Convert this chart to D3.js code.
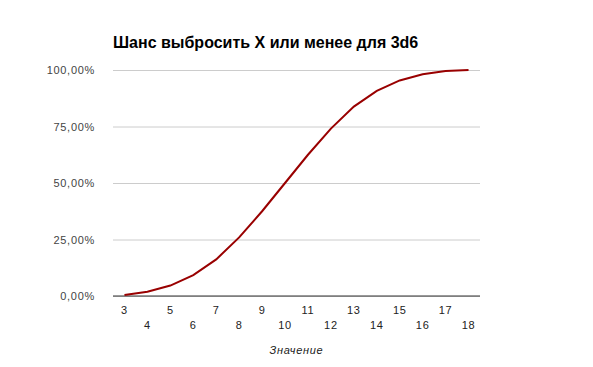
<!DOCTYPE html>
<html>
<head>
<meta charset="utf-8">
<script src="https://cdn.jsdelivr.net/npm/d3@7"></script>
<style>
  body { margin: 0; background: #fff; }
  svg text { font-family: Arial, "Liberation Sans", sans-serif; }
</style>
</head>
<body>
<div id="chart"></div>
<script>
// values: chance to roll X or less with 3d6
const rolls = [3, 4, 5, 6, 7, 8, 9, 10, 11, 12, 13, 14, 15, 16, 17, 18];
const chance = [0.0046, 0.0185, 0.0463, 0.0926, 0.162, 0.2593, 0.375, 0.5, 0.625, 0.7407, 0.838, 0.9074, 0.9537, 0.9815, 0.9954, 1.0];
const yTicks = [0, 0.25, 0.5, 0.75, 1];
const title = 'Шанс выбросить X или менее для 3d6';
const xTitle = 'Значение';

const config = {
  width: 593,
  height: 367,
  margin: {top: 70, right: 113, bottom: 71, left: 113}
};

const w = config.width - config.margin.left - config.margin.right;
const h = config.height - config.margin.top - config.margin.bottom;

const svg = d3.select('#chart').append('svg')
  .attr('width', config.width)
  .attr('height', config.height);

svg.append('text')
  .attr('x', config.margin.left)
  .attr('y', 48)
  .attr('font-size', 16)
  .attr('font-weight', 'bold')
  .attr('fill', '#000')
  .text(title);

const chart = svg.append('g')
  .attr('transform', `translate(${config.margin.left},${config.margin.top})`);

const xScale = d3.scalePoint()
  .domain(rolls)
  .range([0, w])
  .padding(0.5);

const yScale = d3.scaleLinear()
  .domain([0, 1])
  .range([h, 0]);

const fmt = d => d3.format('.2f')(d * 100).replace('.', ',') + '%';

// gridlines + y labels
const yAxis = d3.axisLeft(yScale)
  .tickValues(yTicks)
  .tickSize(-w)
  .tickPadding(18)
  .tickFormat(fmt);

chart.append('g')
  .attr('class', 'y-axis')
  .call(yAxis)
  .call(g => g.select('.domain').remove())
  .call(g => g.selectAll('line').attr('stroke', '#ccc'))
  .call(g => g.selectAll('text')
    .attr('font-size', 11)
    .attr('letter-spacing', 0.7)
    .attr('fill', '#444'));

// baseline
chart.append('line')
  .attr('x1', 0).attr('x2', w)
  .attr('y1', h).attr('y2', h)
  .attr('stroke', '#333')
  .attr('stroke-width', 1);

// x labels, staggered in two rows
chart.append('g')
  .selectAll('text')
  .data(rolls)
  .join('text')
  .attr('x', d => xScale(d))
  .attr('y', (d, i) => h + (i % 2 === 0 ? 18 : 33))
  .attr('text-anchor', 'middle')
  .attr('font-size', 11)
  .attr('letter-spacing', 0.7)
  .attr('fill', '#222')
  .text(d => d);

chart.append('text')
  .attr('x', w / 2)
  .attr('y', h + 58)
  .attr('text-anchor', 'middle')
  .attr('font-size', 11)
  .attr('letter-spacing', 0.7)
  .attr('font-style', 'italic')
  .attr('fill', '#222')
  .text(xTitle);

const line = d3.line()
  .x((d, i) => xScale(rolls[i]))
  .y(d => yScale(d));

chart.append('path')
  .datum(chance)
  .attr('d', line)
  .attr('fill', 'none')
  .attr('stroke', '#990000')
  .attr('stroke-width', 2);
</script>
</body>
</html>
